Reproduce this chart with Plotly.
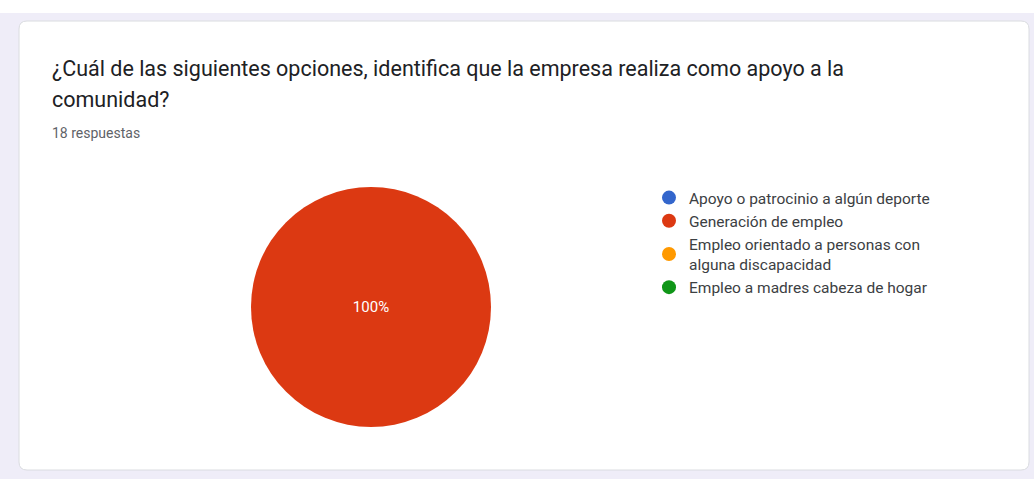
import plotly.graph_objects as go

# Survey question and response summary
question_lines = [
    "¿Cuál de las siguientes opciones, identifica que la empresa realiza como apoyo a la",
    "comunidad?",
]
responses_label = "18 respuestas"

# Answer options and the number of responses for each
options = [
    "Apoyo o patrocinio a algún deporte",
    "Generación de empleo",
    "Empleo orientado a personas con<br>alguna discapacidad",
    "Empleo a madres cabeza de hogar",
]
counts = [0, 18, 0, 0]
colors = ["#3366cc", "#dc3912", "#ff9900", "#109618"]

W, H = 1034, 479
FONT = "Roboto, Arial, sans-serif"

fig = go.Figure()

# Pie of the answers; legend is drawn by the circle-marker traces below
fig.add_trace(go.Pie(
    labels=options,
    values=counts,
    marker=dict(colors=colors, line=dict(width=0)),
    sort=False,
    direction="clockwise",
    textinfo="percent",
    texttemplate="%{percent:.0%}",
    textposition="inside",
    insidetextorientation="horizontal",
    textfont=dict(family=FONT, size=15, color="white"),
    showlegend=False,
    hoverinfo="label+value+percent",
    domain=dict(x=[251 / W, 491 / W], y=[(H - 427) / H, (H - 187) / H]),
))

# Legend entries with round markers
for name, col in zip(options, colors):
    fig.add_trace(go.Scatter(
        x=[None], y=[None], mode="markers", name=name,
        marker=dict(color=col, size=14, symbol="circle"),
        showlegend=True,
    ))

# Card background with rounded corners
x0, x1, y0, y1, r = 19 / W, 1029 / W, 1 - 21 / H, 1 - 470 / H, 8
rx, ry = r / W, r / H
card_path = (
    f"M {x0 + rx} {y0} L {x1 - rx} {y0} Q {x1} {y0} {x1} {y0 - ry} "
    f"L {x1} {y1 + ry} Q {x1} {y1} {x1 - rx} {y1} "
    f"L {x0 + rx} {y1} Q {x0} {y1} {x0} {y1 + ry} "
    f"L {x0} {y0 - ry} Q {x0} {y0} {x0 + rx} {y0} Z"
)

title_annotations = [
    dict(text=line, xref="paper", yref="paper", x=50 / W, y=1 - ypix / H,
         xanchor="left", yanchor="middle", align="left", showarrow=False,
         font=dict(family=FONT, size=21.5, color="#202124"))
    for line, ypix in zip(question_lines, [69, 99])
]

fig.update_layout(
    width=W, height=H,
    margin=dict(l=0, r=0, t=0, b=0),
    paper_bgcolor="#efedf8",
    plot_bgcolor="rgba(0,0,0,0)",
    xaxis=dict(visible=False),
    yaxis=dict(visible=False),
    shapes=[
        # white strip across the very top of the page
        dict(type="rect", xref="paper", yref="paper", x0=0, x1=1, y0=1 - 13 / H, y1=1,
             fillcolor="white", line=dict(width=0), layer="below"),
        dict(type="path", xref="paper", yref="paper", path=card_path,
             fillcolor="white", line=dict(color="#dadce0", width=1), layer="below"),
    ],
    annotations=title_annotations + [
        dict(text=responses_label, xref="paper", yref="paper", x=50 / W, y=1 - 133 / H,
             xanchor="left", yanchor="middle", align="left", showarrow=False,
             font=dict(family=FONT, size=14, color="#5f6368")),
    ],
    legend=dict(
        x=649 / W, y=1 - 181 / H, xanchor="left", yanchor="top",
        bgcolor="rgba(0,0,0,0)",
        font=dict(family=FONT, size=15.5, color="#3c4043"),
        itemwidth=30,
        tracegroupgap=0,
    ),
)

fig.write_html("out.html")
